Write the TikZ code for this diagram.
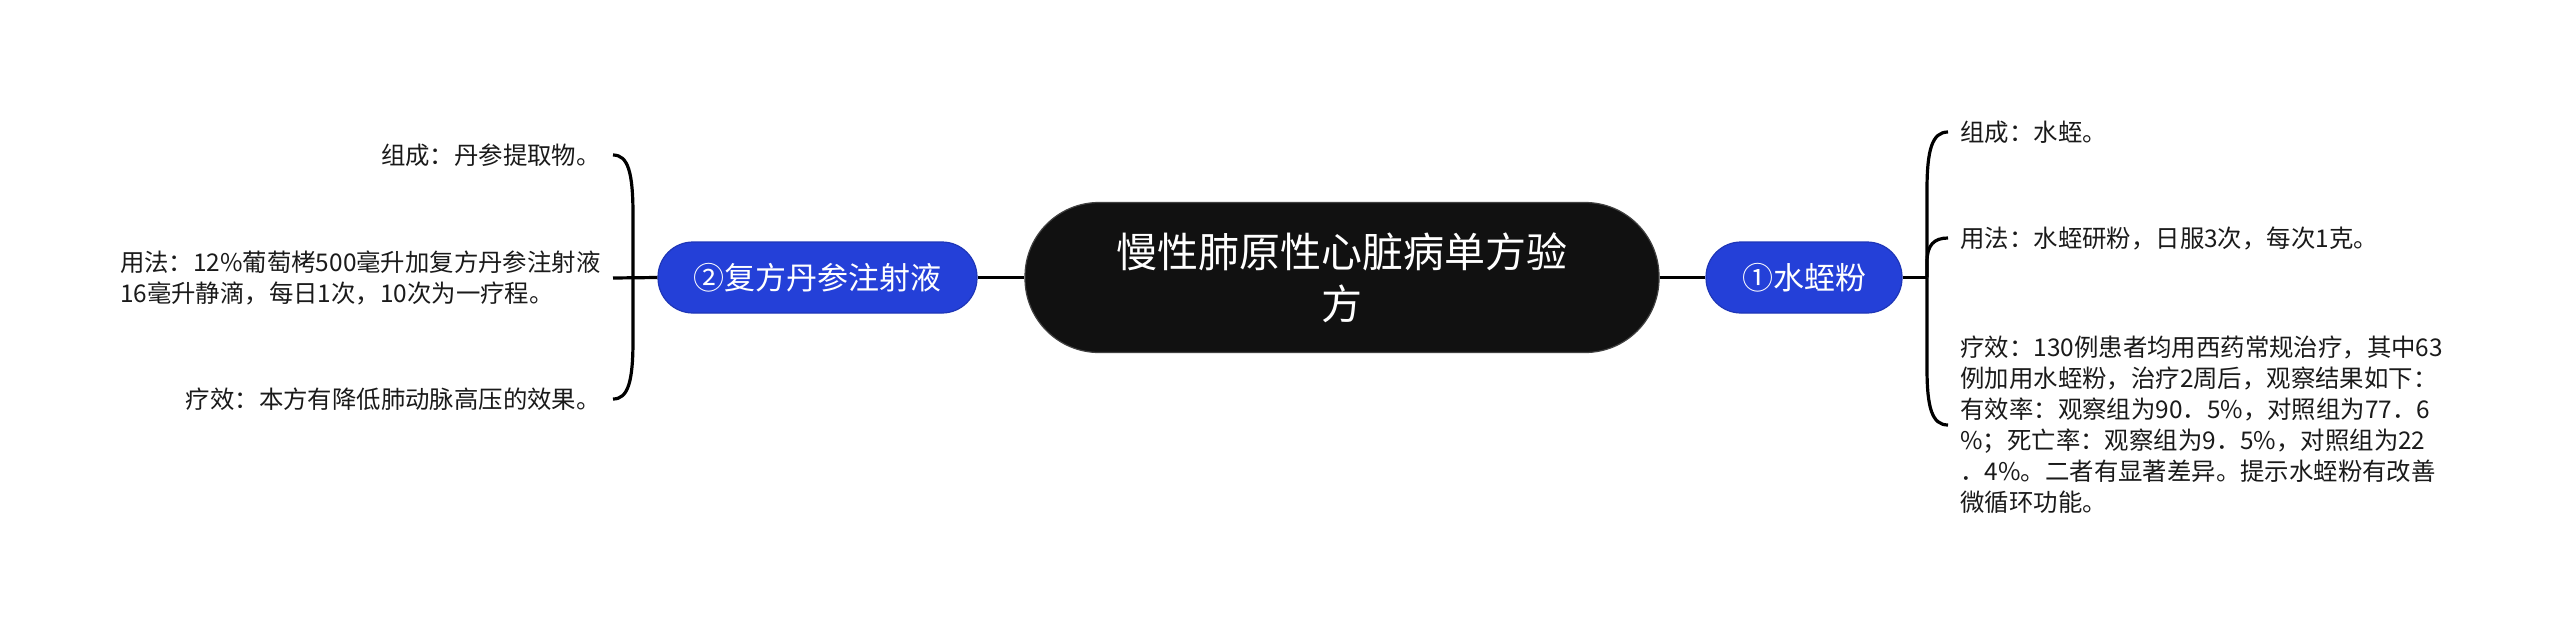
\documentclass[tikz,border=0pt]{standalone}
\usepackage{fontspec}
\setmainfont{Noto Sans CJK SC}
\definecolor{nodeblue}{HTML}{2440D8}
\definecolor{nodeblueedge}{HTML}{1E36B8}
\definecolor{rootfill}{HTML}{111111}
\definecolor{txt}{HTML}{1A1A1A}
\tikzset{
  conn/.style={draw=black, line width=1.6pt},
  rootbox/.style={fill=rootfill, draw=rootfill!80!white, line width=0.6pt, rounded corners=37pt,
    minimum width=317pt, minimum height=75pt, text=white, align=center,
    font={\fontsize{20.5pt}{26pt}\selectfont}, inner sep=0pt},
  topicbox/.style={fill=nodeblue, draw=nodeblueedge, line width=0.6pt, rounded corners=17.5pt,
    minimum height=35.5pt, text=white, inner sep=0pt,
    font={\fontsize{15.5pt}{18pt}\selectfont}},
  leaf/.style={text=txt, inner ysep=0pt, inner xsep=6pt,
    font={\fontsize{12.2pt}{15.5pt}\selectfont}, align=left}
}
\begin{document}
\begin{tikzpicture}[x=0.5pt,y=-0.5pt]
\useasboundingbox (0,0) rectangle (2560,633);

% root and main topics
\node[rootbox] (c) at (1342,277.5) {慢性肺原性心脏病单方验\\方};
\node[topicbox, minimum width=159.5pt] (l) at (817.5,277.5) {②复方丹参注射液};
\node[topicbox, minimum width=98pt] (r) at (1804,277.5) {①水蛭粉};

\draw[conn] (l.east) -- (c.west);
\draw[conn] (c.east) -- (r.west);

% left leaves
\node[leaf, anchor=east] (lt1) at (613,155) {组成：丹参提取物。};
\node[leaf, anchor=east] (lt2) at (613,278) {用法：12\%葡萄栲500毫升加复方丹参注射液\\16毫升静滴，每日1次，10次为一疗程。};
\node[leaf, anchor=east] (lt3) at (613,399) {疗效：本方有降低肺动脉高压的效果。};

\coordinate (jl) at (633,277.5);
\draw[conn] (l.west) -- (lt2.east);
\draw[conn] (jl) -- (633,215) .. controls (633,172) and (628,155) .. (lt1.east);
\draw[conn] (jl) -- (633,340) .. controls (633,382) and (628,399) .. (lt3.east);

% right leaves
\node[leaf, anchor=west] (rt1) at (1948,132) {组成：水蛭。};
\node[leaf, anchor=west] (rt2) at (1948,238) {用法：水蛭研粉，日服3次，每次1克。};
\node[leaf, anchor=west] (rt3) at (1948,425) {疗效：130例患者均用西药常规治疗，其中63\\例加用水蛭粉，治疗2周后，观察结果如下：\\有效率：观察组为90．5\%，对照组为77．6\\\%；死亡率：观察组为9．5\%，对照组为22\\．4\%。二者有显著差异。提示水蛭粉有改善\\微循环功能。};

\coordinate (jr) at (1927,277.5);
\draw[conn] (r.east) -- (jr);
\draw[conn] (jr) -- (1927,190) .. controls (1927,150) and (1932,132) .. (rt1.west);
\draw[conn] (jr) -- (1927,262) .. controls (1927,245) and (1934,238) .. (rt2.west);
\draw[conn] (jr) -- (1927,368) .. controls (1927,408) and (1932,425) .. (rt3.west);
\end{tikzpicture}
\end{document}
